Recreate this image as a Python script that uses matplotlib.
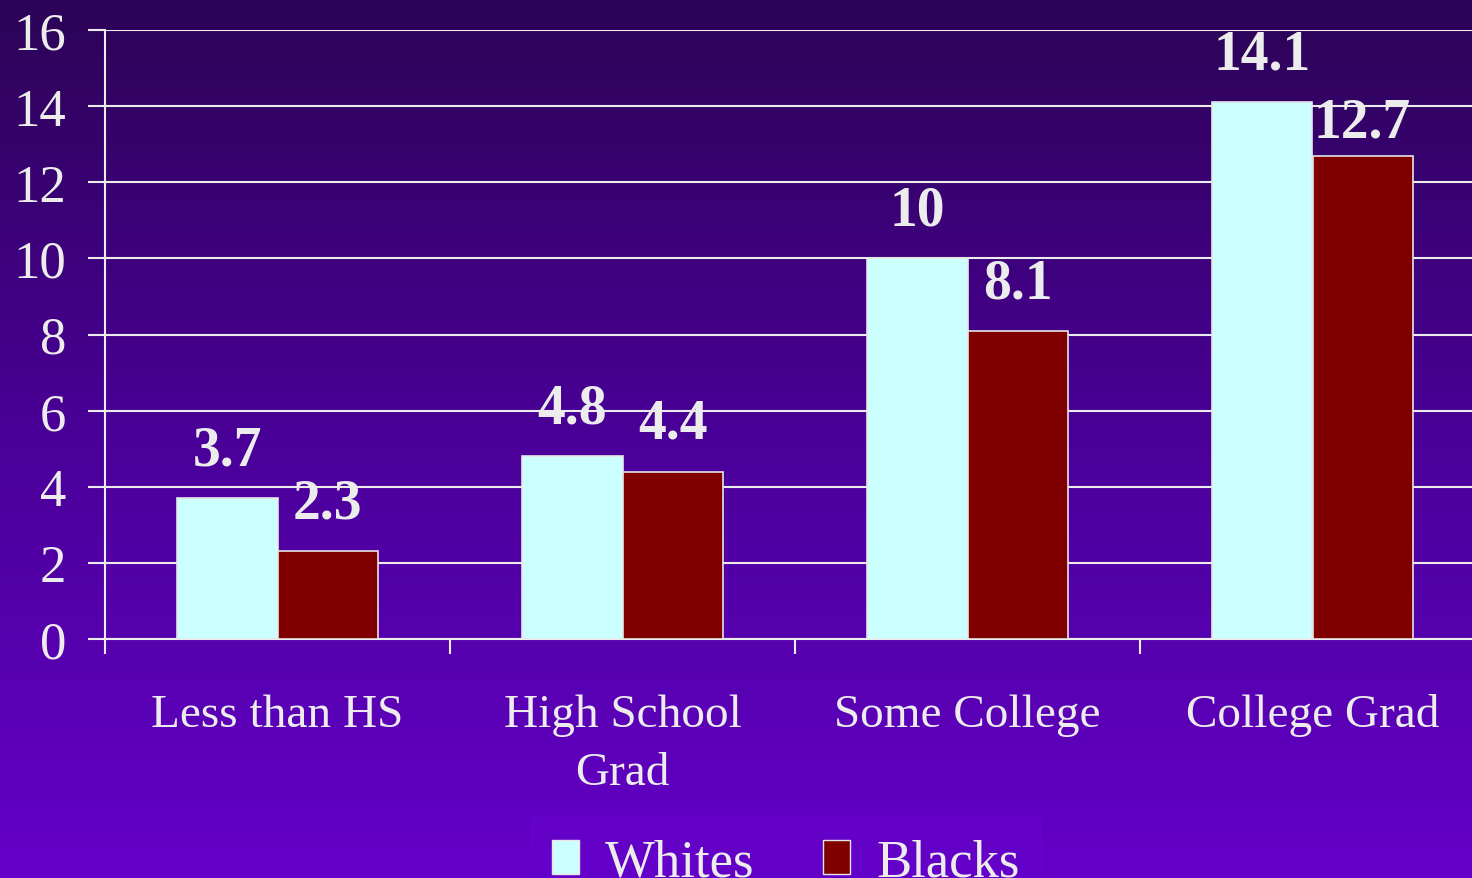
import numpy as np
import matplotlib.pyplot as plt
from matplotlib.colors import LinearSegmentedColormap
from matplotlib.patches import Patch

categories = ['Less than HS', 'High School\nGrad', 'Some College', 'College Grad']
whites = [3.7, 4.8, 10, 14.1]
blacks = [2.3, 4.4, 8.1, 12.7]
white_labels = ['3.7', '4.8', '10', '14.1']
black_labels = ['2.3', '4.4', '8.1', '12.7']

plt.rcParams['font.family'] = ['Liberation Serif', 'DejaVu Serif']
txt = '#ececec'

fig = plt.figure(figsize=(14.72, 8.79), dpi=100)

# background gradient, dark at top, brighter purple at bottom
bg = fig.add_axes([0, 0, 1, 1], zorder=-10)
cmap = LinearSegmentedColormap.from_list('bg', ['#2c0456', '#4a0098', '#6400c8'])
bg.imshow(np.linspace(0, 1, 256).reshape(-1, 1), aspect='auto', cmap=cmap,
          extent=[0, 1, 1, 0])
bg.set_axis_off()

ax = fig.add_axes([105 / 1472, 1 - 640 / 879, 1380 / 1472, 609 / 879])
ax.set_facecolor('none')

x = np.arange(len(categories))
w = 0.29
b1 = ax.bar(x - w / 2, whites, w, color='#ccffff', edgecolor='#e6e6e6', linewidth=1.2, zorder=3)
b2 = ax.bar(x + w / 2, blacks, w, color='#800000', edgecolor='#e6e6e6', linewidth=1.2, zorder=3)

for rect, lab in zip(b1, white_labels):
    ax.annotate(lab, (rect.get_x() + rect.get_width() / 2, rect.get_height()),
                xytext=(0, 15.5), textcoords='offset points', ha='center', va='bottom',
                fontsize=40, fontweight='bold', color=txt)
for rect, lab in zip(b2, black_labels):
    ax.annotate(lab, (rect.get_x() + rect.get_width() / 2, rect.get_height()),
                xytext=(0, 15.5 if rect.get_height() < 12 else 5), textcoords='offset points',
                ha='center', va='bottom', fontsize=40, fontweight='bold', color=txt)

ax.set_xlim(-0.5, 3.5)
ax.set_ylim(0, 16)
ax.set_yticks(np.arange(0, 17, 2))
ax.yaxis.grid(True, color=txt, linewidth=1.5, zorder=1)
ax.set_axisbelow(True)

ax.set_xticks(x)
ax.set_xticklabels(categories, fontsize=34, color=txt, linespacing=1.5)
ax.set_xticks(np.arange(-0.5, 3.6, 1), minor=True)
ax.tick_params(axis='x', which='major', length=0, pad=39)
ax.tick_params(axis='x', which='minor', length=11, width=1.5, color=txt)
ax.tick_params(axis='y', length=12, width=1.5, color=txt, labelcolor=txt,
               labelsize=38, pad=16)

for s in ['top', 'right']:
    ax.spines[s].set_visible(False)
for s in ['left', 'bottom']:
    ax.spines[s].set_color(txt)
    ax.spines[s].set_linewidth(1.5)

handles = [Patch(facecolor='#ccffff', edgecolor='#e6e6e6', label='Whites'),
           Patch(facecolor='#800000', edgecolor='#e6e6e6', label='Blacks')]
leg = fig.legend(handles=handles, loc='upper center', bbox_to_anchor=(786 / 1472, 1 - 792 / 879),
                 ncol=2, fontsize=38, frameon=True, facecolor='#6502c9', edgecolor='#6604c8',
                 fancybox=False, handlelength=0.5, handleheight=0.6, handletextpad=0.5,
                 columnspacing=1.3, borderpad=0.4)
for t in leg.get_texts():
    t.set_color(txt)

fig.savefig('out.png', dpi=100)
